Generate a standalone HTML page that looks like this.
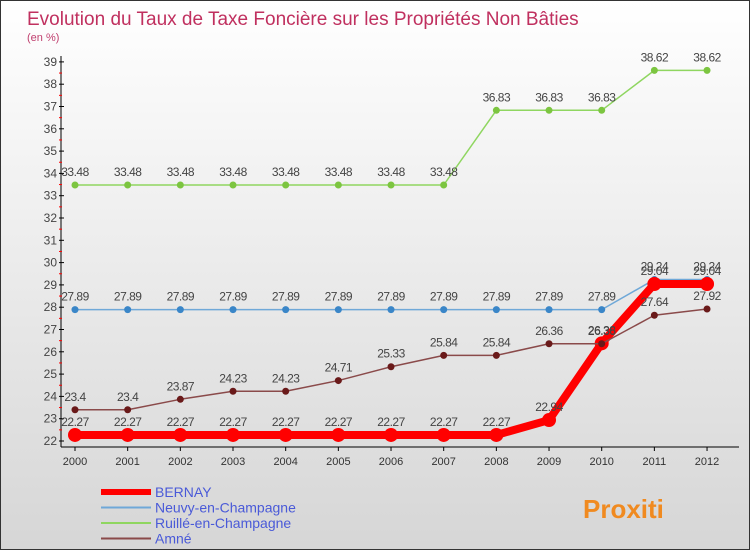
<!DOCTYPE html>
<html><head><meta charset="utf-8"><style>
body{margin:0}
#c{width:750px;height:550px;position:relative;box-sizing:border-box;border:1px solid #333;background:linear-gradient(#ffffff,#d6d6d6);font-family:"Liberation Sans",sans-serif;overflow:hidden}
</style></head><body>
<div id="c">
<svg id="s" width="748" height="548" style="position:absolute;left:0;top:0"></svg>
</div>
<script>
const years=[2000,2001,2002,2003,2004,2005,2006,2007,2008,2009,2010,2011,2012];
const bernay=[22.27,22.27,22.27,22.27,22.27,22.27,22.27,22.27,22.27,22.94,26.38,29.04,29.04];
const neuvy=[27.89,27.89,27.89,27.89,27.89,27.89,27.89,27.89,27.89,27.89,27.89,29.24,29.24];
const ruille=[33.48,33.48,33.48,33.48,33.48,33.48,33.48,33.48,36.83,36.83,36.83,38.62,38.62];
const amne=[23.4,23.4,23.87,24.23,24.23,24.71,25.33,25.84,25.84,26.36,26.36,27.64,27.92];
const yTicks=[22,23,24,25,26,27,28,29,30,31,32,33,34,35,36,37,38,39];
const NS="http://www.w3.org/2000/svg";
const s=document.getElementById('s');
function X(i){return 74+i*52.67;}
function Y(v){return 440-(v-22)*22.3;}
function el(t,a,p){const e=document.createElementNS(NS,t);for(const k in a)e.setAttribute(k,a[k]);(p||s).appendChild(e);return e;}
let t=el('text',{x:26,y:24,fill:'#c0305f','font-size':19});t.textContent='Evolution du Taux de Taxe Foncière sur les Propriétés Non Bâties';

t=el('text',{x:26,y:40,fill:'#c0406f','font-size':11});t.textContent='(en %)';

// axes
let a=el('line',{x1:60,y1:55,x2:60,y2:446,stroke:'#000'});
a=el('line',{x1:60,y1:446,x2:738,y2:446,stroke:'#000'});
yTicks.forEach(v=>{el('line',{x1:58,y1:Y(v),x2:63,y2:Y(v),stroke:'#000'});
 if(v<39)el('line',{x1:58,y1:Y(v+0.5),x2:61,y2:Y(v+0.5),stroke:'#f00'});
 const tt=el('text',{x:56,y:Y(v)+4,'text-anchor':'end','font-size':12,fill:'#444'});tt.textContent=v;
 });
years.forEach((y,i)=>{el('line',{x1:X(i),y1:446,x2:X(i),y2:450,stroke:'#000'});
 const tt=el('text',{x:X(i),y:464,'text-anchor':'middle','font-size':11,fill:'#333'});tt.textContent=y;
 });
function series(d,col,w,r,name,dot){
 const g=el('g',{});
 el('polyline',{points:d.map((v,i)=>X(i)+','+Y(v)).join(' '),fill:'none',stroke:col,'stroke-width':w,'stroke-linejoin':'round'},g);
 d.forEach((v,i)=>{const c=el('circle',{cx:X(i),cy:Y(v),r:r,fill:dot},g);
  const l=el('text',{x:X(i),y:Y(v)-9,'text-anchor':'middle','font-size':12,fill:'#444','letter-spacing':'-0.5'},g);l.textContent=v;});
}
series(ruille,'#8fd660',1.5,3.5,'series-ruille','#7cc540');
series(neuvy,'#6fa8d8',1.5,3.5,'series-neuvy','#3a86c8');
series(bernay,'#ff0000',8,7,'series-bernay','#ff0000');
series(amne,'#8a4a4a',1.5,3.5,'series-amne','#6a1a1a');
// legend
const leg=[['BERNAY','#ff0000',6],['Neuvy-en-Champagne','#6fa8d8',2],['Ruillé-en-Champagne','#8fd660',2],['Amné','#8a4a4a',2]];
leg.forEach((l,i)=>{const g=el('g',{});
 const y=491+i*15.5;el('line',{x1:100,y1:y,x2:150,y2:y,stroke:l[1],'stroke-width':l[2]},g);
 const tt=el('text',{x:154,y:y+5,'font-size':14,fill:'#4a5ad8'},g);tt.textContent=l[0];});
t=el('text',{x:582,y:517,'font-size':26,'font-weight':'bold',fill:'#f08a20'});t.textContent='Proxiti';

</script>
</body></html>
